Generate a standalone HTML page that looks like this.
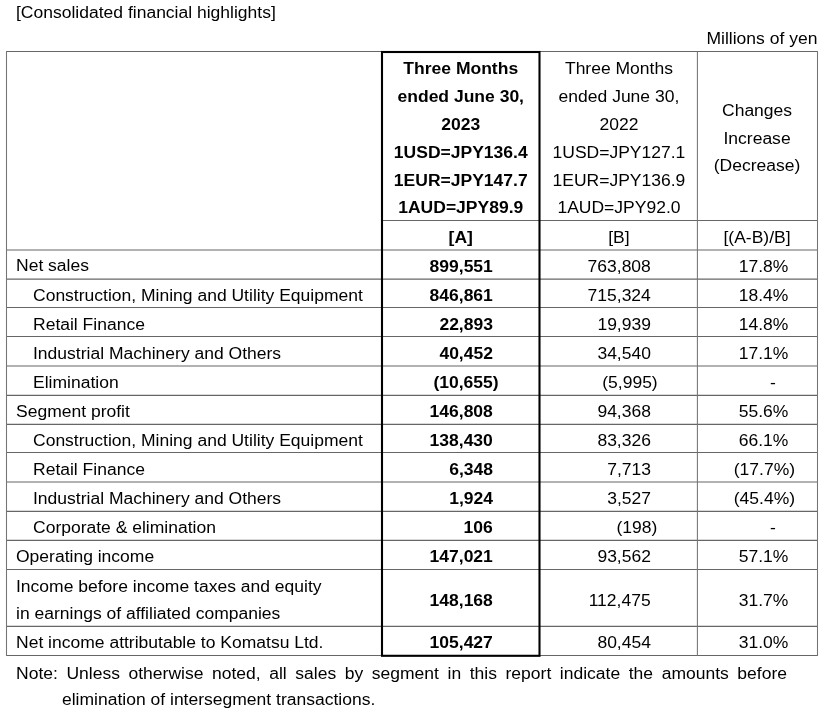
<!DOCTYPE html>
<html lang="en"><head><meta charset="utf-8"><title>Consolidated financial highlights</title>
<style>
html,body{margin:0;padding:0;background:#fff;}
body{width:824px;height:716px;position:relative;overflow:hidden;font-family:"Liberation Sans",sans-serif;font-size:16px;color:#000;}
.t{position:absolute;white-space:nowrap;line-height:28px;transform:scaleX(1.094);transform-origin:0 50%;}
.c{text-align:center;transform-origin:50% 50%;}
.r{transform-origin:100% 50%;}
.b{font-weight:bold;}
svg{position:absolute;left:0;top:0;}
</style></head><body>

<svg width="824" height="716" viewBox="0 0 824 716">
<line x1="6.5" y1="51.45" x2="817.5" y2="51.45" stroke="#666" stroke-width="1.15"/>
<line x1="382.0" y1="220.5" x2="817.5" y2="220.5" stroke="#666" stroke-width="1.15"/>
<line x1="6.5" y1="250.0" x2="817.5" y2="250.0" stroke="#666" stroke-width="1.15"/>
<line x1="6.5" y1="279.1" x2="817.5" y2="279.1" stroke="#666" stroke-width="1.15"/>
<line x1="6.5" y1="307.5" x2="817.5" y2="307.5" stroke="#666" stroke-width="1.15"/>
<line x1="6.5" y1="336.5" x2="817.5" y2="336.5" stroke="#666" stroke-width="1.15"/>
<line x1="6.5" y1="366.0" x2="817.5" y2="366.0" stroke="#666" stroke-width="1.15"/>
<line x1="6.5" y1="395.3" x2="817.5" y2="395.3" stroke="#666" stroke-width="1.15"/>
<line x1="6.5" y1="424.3" x2="817.5" y2="424.3" stroke="#666" stroke-width="1.15"/>
<line x1="6.5" y1="452.5" x2="817.5" y2="452.5" stroke="#666" stroke-width="1.15"/>
<line x1="6.5" y1="482.0" x2="817.5" y2="482.0" stroke="#666" stroke-width="1.15"/>
<line x1="6.5" y1="511.3" x2="817.5" y2="511.3" stroke="#666" stroke-width="1.15"/>
<line x1="6.5" y1="540.3" x2="817.5" y2="540.3" stroke="#666" stroke-width="1.15"/>
<line x1="6.5" y1="569.5" x2="817.5" y2="569.5" stroke="#666" stroke-width="1.15"/>
<line x1="6.5" y1="626.3" x2="817.5" y2="626.3" stroke="#666" stroke-width="1.15"/>
<line x1="6.5" y1="655.45" x2="817.5" y2="655.45" stroke="#666" stroke-width="1.15"/>
<line x1="6.5" y1="50.95" x2="6.5" y2="655.95" stroke="#747474" stroke-width="1.05"/>
<line x1="697.4" y1="51.45" x2="697.4" y2="655.45" stroke="#747474" stroke-width="1.05"/>
<line x1="817.5" y1="50.95" x2="817.5" y2="655.95" stroke="#747474" stroke-width="1.05"/>
<rect x="382.0" y="52.0" width="157.5" height="603.8" fill="none" stroke="#000" stroke-width="2.1"/>
</svg>
<div class="t" style="left:16px;top:-0.6px;">[Consolidated financial highlights]</div>
<div class="t r" style="right:6.5px;top:24.9px;">Millions of yen</div>
<div class="t c b" style="left:382.0px;width:157.5px;top:54.9px;line-height:27.8px">Three Months</div>
<div class="t c b" style="left:382.0px;width:157.5px;top:82.7px;line-height:27.8px">ended June 30,</div>
<div class="t c b" style="left:382.0px;width:157.5px;top:111.4px;line-height:27.8px">2023</div>
<div class="t c b" style="left:382.0px;width:157.5px;top:138.9px;line-height:27.8px">1USD=JPY136.4</div>
<div class="t c b" style="left:382.0px;width:157.5px;top:166.5px;line-height:27.8px">1EUR=JPY147.7</div>
<div class="t c b" style="left:382.0px;width:157.5px;top:193.7px;line-height:27.8px">1AUD=JPY89.9</div>
<div class="t c " style="left:539.5px;width:157.9px;top:54.9px;line-height:27.8px">Three Months</div>
<div class="t c " style="left:539.5px;width:157.9px;top:82.7px;line-height:27.8px">ended June 30,</div>
<div class="t c " style="left:539.5px;width:157.9px;top:111.4px;line-height:27.8px">2022</div>
<div class="t c " style="left:539.5px;width:157.9px;top:138.9px;line-height:27.8px">1USD=JPY127.1</div>
<div class="t c " style="left:539.5px;width:157.9px;top:166.5px;line-height:27.8px">1EUR=JPY136.9</div>
<div class="t c " style="left:539.5px;width:157.9px;top:193.7px;line-height:27.8px">1AUD=JPY92.0</div>
<div class="t c " style="left:697.4px;width:120.1px;top:96.77px;line-height:27.8px">Changes<br>Increase<br>(Decrease)</div>
<div class="t c b" style="left:382.0px;width:157.5px;top:223.85px;line-height:27.8px">[A]</div>
<div class="t c " style="left:539.5px;width:157.9px;top:223.85px;line-height:27.8px">[B]</div>
<div class="t c " style="left:697.4px;width:120.1px;top:223.65px;line-height:27.8px">[(A-B)/B]</div>
<div class="t" style="left:16px;top:252.45px;line-height:27.5px">Net sales</div>
<div class="t r b" style="right:331.0px;top:252.6px;line-height:27.5px">899,551</div>
<div class="t r " style="right:172.95px;top:252.6px;line-height:27.5px">763,808</div>
<div class="t r " style="right:36.0px;top:252.6px;line-height:27.5px">17.8%</div>
<div class="t" style="left:33px;top:281.51px;line-height:27.5px">Construction, Mining and Utility Equipment</div>
<div class="t r b" style="right:331.0px;top:281.66px;line-height:27.5px">846,861</div>
<div class="t r " style="right:172.95px;top:281.66px;line-height:27.5px">715,324</div>
<div class="t r " style="right:36.0px;top:281.66px;line-height:27.5px">18.4%</div>
<div class="t" style="left:33px;top:310.57px;line-height:27.5px">Retail Finance</div>
<div class="t r b" style="right:331.0px;top:310.72px;line-height:27.5px">22,893</div>
<div class="t r " style="right:172.95px;top:310.72px;line-height:27.5px">19,939</div>
<div class="t r " style="right:36.0px;top:310.72px;line-height:27.5px">14.8%</div>
<div class="t" style="left:33px;top:339.63px;line-height:27.5px">Industrial Machinery and Others</div>
<div class="t r b" style="right:331.0px;top:339.78px;line-height:27.5px">40,452</div>
<div class="t r " style="right:172.95px;top:339.78px;line-height:27.5px">34,540</div>
<div class="t r " style="right:36.0px;top:339.78px;line-height:27.5px">17.1%</div>
<div class="t" style="left:33px;top:368.69px;line-height:27.5px">Elimination</div>
<div class="t r b" style="right:325.8px;top:368.84px;line-height:27.5px">(10,655)</div>
<div class="t r " style="right:166.57px;top:368.84px;line-height:27.5px">(5,995)</div>
<div class="t c " style="left:753.2px;width:40.0px;top:368.84px;line-height:27.5px">-</div>
<div class="t" style="left:16px;top:397.75px;line-height:27.5px">Segment profit</div>
<div class="t r b" style="right:331.0px;top:397.9px;line-height:27.5px">146,808</div>
<div class="t r " style="right:172.95px;top:397.9px;line-height:27.5px">94,368</div>
<div class="t r " style="right:36.0px;top:397.9px;line-height:27.5px">55.6%</div>
<div class="t" style="left:33px;top:426.81px;line-height:27.5px">Construction, Mining and Utility Equipment</div>
<div class="t r b" style="right:331.0px;top:426.96px;line-height:27.5px">138,430</div>
<div class="t r " style="right:172.95px;top:426.96px;line-height:27.5px">83,326</div>
<div class="t r " style="right:36.0px;top:426.96px;line-height:27.5px">66.1%</div>
<div class="t" style="left:33px;top:455.87px;line-height:27.5px">Retail Finance</div>
<div class="t r b" style="right:331.0px;top:456.02px;line-height:27.5px">6,348</div>
<div class="t r " style="right:172.95px;top:456.02px;line-height:27.5px">7,713</div>
<div class="t r " style="right:29.32px;top:456.02px;line-height:27.5px">(17.7%)</div>
<div class="t" style="left:33px;top:484.93px;line-height:27.5px">Industrial Machinery and Others</div>
<div class="t r b" style="right:331.0px;top:485.08px;line-height:27.5px">1,924</div>
<div class="t r " style="right:172.95px;top:485.08px;line-height:27.5px">3,527</div>
<div class="t r " style="right:29.32px;top:485.08px;line-height:27.5px">(45.4%)</div>
<div class="t" style="left:33px;top:513.99px;line-height:27.5px">Corporate &amp; elimination</div>
<div class="t r b" style="right:331.0px;top:514.14px;line-height:27.5px">106</div>
<div class="t r " style="right:166.57px;top:514.14px;line-height:27.5px">(198)</div>
<div class="t c " style="left:753.2px;width:40.0px;top:514.14px;line-height:27.5px">-</div>
<div class="t" style="left:16px;top:543.05px;line-height:27.5px">Operating income</div>
<div class="t r b" style="right:331.0px;top:543.2px;line-height:27.5px">147,021</div>
<div class="t r " style="right:172.95px;top:543.2px;line-height:27.5px">93,562</div>
<div class="t r " style="right:36.0px;top:543.2px;line-height:27.5px">57.1%</div>
<div class="t" style="left:16px;top:572.75px;line-height:27.2px">Income before income taxes and equity<br>in earnings of affiliated companies</div>
<div class="t r b" style="right:331.0px;top:587.25px;line-height:27.5px">148,168</div>
<div class="t r " style="right:172.95px;top:587.25px;line-height:27.5px">112,475</div>
<div class="t r " style="right:36.0px;top:587.25px;line-height:27.5px">31.7%</div>
<div class="t" style="left:16px;top:629.02px;line-height:27.5px">Net income attributable to Komatsu Ltd.</div>
<div class="t r b" style="right:331.0px;top:629.17px;line-height:27.5px">105,427</div>
<div class="t r " style="right:172.95px;top:629.17px;line-height:27.5px">80,454</div>
<div class="t r " style="right:36.0px;top:629.17px;line-height:27.5px">31.0%</div>
<div class="t" style="left:16px;top:661.0px;width:704.75px;white-space:normal;text-align:justify;text-align-last:justify;line-height:26px">Note: Unless otherwise noted, all sales by segment in this report indicate the amounts before</div>
<div class="t" style="left:62px;top:686.7px;line-height:26px">elimination of intersegment transactions.</div>
</body></html>
